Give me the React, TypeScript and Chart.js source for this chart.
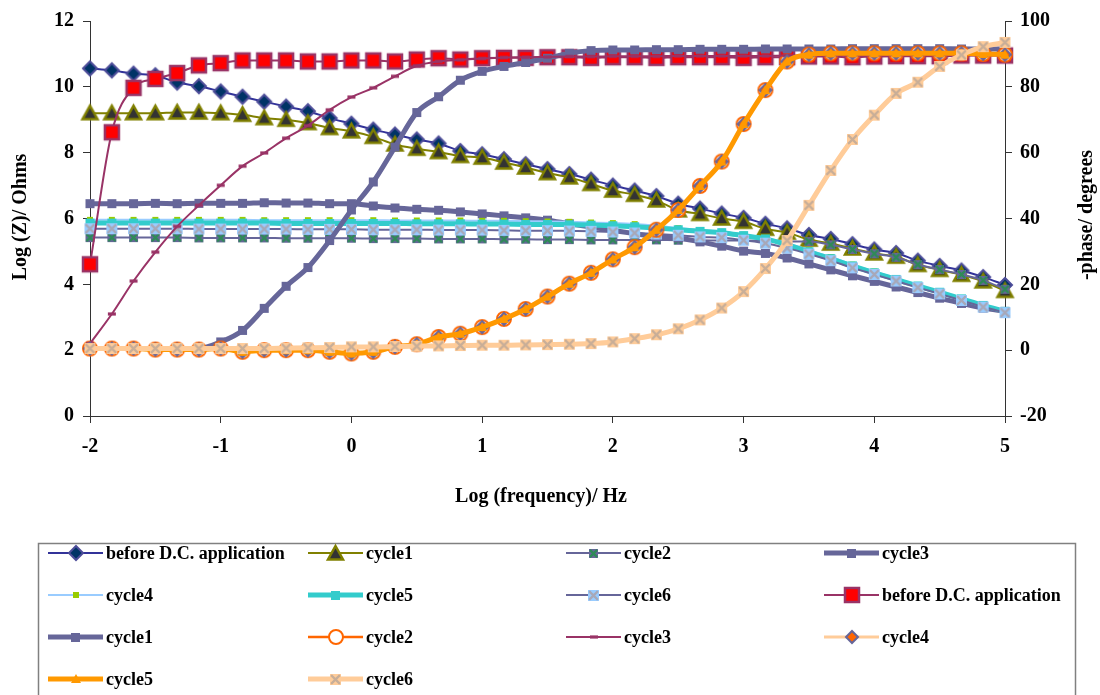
import { useEffect, useRef } from 'react';
import { Chart, registerables } from 'chart.js';

Chart.register(...registerables);

// log10(frequency / Hz)
const logFreq = [
  -2, -1.833, -1.667, -1.5, -1.333, -1.167, -1, -0.833, -0.667, -0.5,
  -0.333, -0.167, 0, 0.167, 0.333, 0.5, 0.667, 0.833, 1, 1.167,
  1.333, 1.5, 1.667, 1.833, 2, 2.167, 2.333, 2.5, 2.667, 2.833,
  3, 3.167, 3.333, 3.5, 3.667, 3.833, 4, 4.167, 4.333, 4.5,
  4.667, 4.833, 5,
];

// Log |Z| / Ohms (left axis)
const zBeforeDC = [
  10.56, 10.5, 10.4, 10.35, 10.13, 10.02, 9.86, 9.7, 9.55, 9.4,
  9.26, 9.05, 8.88, 8.7, 8.55, 8.4, 8.28, 8.05, 7.95, 7.8,
  7.65, 7.5, 7.35, 7.18, 7.0, 6.85, 6.68, 6.45, 6.3, 6.15,
  6.02, 5.84, 5.7, 5.5, 5.38, 5.22, 5.06, 4.95, 4.72, 4.56,
  4.42, 4.22, 3.98,
];
const zCycle1 = [
  9.2, 9.2, 9.2, 9.2, 9.22, 9.22, 9.2, 9.15, 9.05, 9.0,
  8.9, 8.75, 8.65, 8.48, 8.25, 8.12, 8.02, 7.9, 7.85, 7.7,
  7.55, 7.38, 7.25, 7.05, 6.85, 6.72, 6.55, 6.25, 6.14, 6.0,
  5.9, 5.69, 5.57, 5.36, 5.24, 5.09, 4.94, 4.84, 4.59, 4.44,
  4.29, 4.09, 3.8,
];
const zCycle2 = [
  5.42, 5.42, 5.42, 5.42, 5.42, 5.41, 5.41, 5.41, 5.41, 5.4,
  5.4, 5.4, 5.4, 5.39, 5.39, 5.39, 5.38, 5.38, 5.38, 5.37,
  5.37, 5.36, 5.36, 5.35, 5.35, 5.35, 5.35, 5.34, 5.34, 5.33,
  5.33, 5.32, 5.3, 5.3, 5.2, 5.06, 4.93, 4.82, 4.6, 4.45,
  4.3, 4.12, 3.85,
];
const zCycle3 = [
  6.45, 6.45, 6.45, 6.46, 6.45, 6.46, 6.46, 6.46, 6.48, 6.47,
  6.47, 6.45, 6.45, 6.38, 6.32, 6.28, 6.25, 6.2, 6.14, 6.08,
  6.02, 5.95, 5.84, 5.74, 5.64, 5.54, 5.44, 5.41, 5.29, 5.16,
  5.01, 4.94, 4.8, 4.62, 4.44, 4.26, 4.09, 3.92, 3.75, 3.58,
  3.42, 3.28, 3.18,
];
const zCycle4 = [
  5.96, 5.96, 5.96, 5.96, 5.96, 5.96, 5.96, 5.96, 5.95, 5.95,
  5.95, 5.95, 5.95, 5.95, 5.94, 5.94, 5.94, 5.94, 5.93, 5.93,
  5.92, 5.91, 5.9, 5.88, 5.86, 5.83, 5.78, 5.71, 5.65, 5.6,
  5.51, 5.41, 5.25, 5.04, 4.83, 4.6, 4.39, 4.18, 3.98, 3.78,
  3.58, 3.38, 3.2,
];
const zCycle5 = [
  5.86, 5.86, 5.86, 5.86, 5.86, 5.86, 5.86, 5.86, 5.86, 5.85,
  5.85, 5.85, 5.85, 5.85, 5.85, 5.84, 5.84, 5.84, 5.83, 5.83,
  5.82, 5.82, 5.81, 5.8, 5.78, 5.75, 5.71, 5.66, 5.61, 5.57,
  5.48, 5.38, 5.2, 4.99, 4.78, 4.56, 4.35, 4.15, 3.95, 3.76,
  3.56, 3.36, 3.18,
];
const zCycle6 = [
  5.69, 5.69, 5.69, 5.69, 5.69, 5.68, 5.68, 5.68, 5.68, 5.68,
  5.67, 5.67, 5.67, 5.66, 5.66, 5.66, 5.65, 5.65, 5.65, 5.64,
  5.63, 5.63, 5.62, 5.61, 5.59, 5.56, 5.53, 5.49, 5.44, 5.42,
  5.34, 5.25, 5.1, 4.92, 4.72, 4.5, 4.3, 4.1, 3.9, 3.71,
  3.51, 3.31, 3.14,
];

// -phase / degrees (right axis)
const phBeforeDC = [
  26.1, 66.2, 79.7, 82.4, 84.2, 86.5, 87.2, 88.0, 88.0, 88.0,
  87.7, 87.7, 88.0, 88.0, 87.7, 88.3, 88.7, 88.3, 88.7, 88.8,
  88.8, 89.0, 89.0, 88.8, 89.0, 89.0, 88.8, 89.0, 89.0, 89.0,
  88.8, 89.0, 89.0, 89.2, 89.2, 89.0, 89.2, 89.3, 89.3, 89.3,
  89.5, 89.5, 89.5,
];
const phCycle1 = [
  0.5, 0.5, 0.5, 0.5, 0.5, 0.5, 2.5, 6.0, 12.7, 19.4,
  25.1, 33.3, 42.6, 51.1, 61.7, 72.2, 77.0, 82.0, 84.7, 86.2,
  87.4, 88.7, 90.2, 91.0, 91.2, 91.2, 91.3, 91.3, 91.4, 91.4,
  91.4, 91.5, 91.5, 91.5, 91.5, 91.6, 91.6, 91.6, 91.6, 91.6,
  91.5, 91.5, 91.5,
];
const phCycle2 = [
  0.5, 0.5, 0.5, 0.2, 0.2, 0.2, 0.5, -0.5, 0, 0,
  0, -0.5, -1.0, -0.5, 1.0, 1.8, 4.0, 5.0, 7.0, 9.5,
  12.5, 16.3, 20.2, 23.5, 27.6, 31.3, 36.6, 42.6, 49.9, 57.3,
  68.7, 79.0, 87.7, 89.8, 90.2, 90.2, 90.2, 90.2, 90.2, 90.2,
  90.2, 90.0, 89.8,
];
const phCycle3 = [
  2.0, 11.0, 21.0, 29.8, 37.6, 44.0, 50.1, 55.9, 59.9, 64.4,
  68.2, 73.0, 76.9, 79.7, 83.2, 86.4, 87.7, 88.2, 88.6, 88.9,
  89.0, 89.1, 89.2, 89.2, 89.3, 89.3, 89.3, 89.4, 89.4, 89.4,
  89.4, 89.4, 89.5, 89.5, 89.5, 89.5, 89.5, 89.6, 89.6, 89.6,
  89.6, 89.6, 89.6,
];
const phCycle4 = [
  0.5, 0.5, 0.5, 0.2, 0.2, 0.2, 0.5, -0.5, 0, 0,
  0, -0.5, -1.0, -0.5, 1.0, 1.8, 4.0, 5.0, 7.0, 9.5,
  12.5, 16.3, 20.2, 23.5, 27.6, 31.3, 36.6, 42.6, 49.9, 57.3,
  68.7, 79.0, 87.7, 89.8, 90.2, 90.2, 90.2, 90.2, 90.2, 90.2,
  90.2, 90.0, 89.8,
];
const phCycle5 = [
  0.5, 0.5, 0.5, 0.2, 0.2, 0.2, 0.5, -0.5, 0, 0,
  0, -0.5, -1.0, -0.5, 1.0, 1.8, 4.0, 5.0, 7.0, 9.5,
  12.5, 16.3, 20.2, 23.5, 27.6, 31.3, 36.6, 42.6, 49.9, 57.3,
  68.7, 79.0, 87.7, 89.8, 90.2, 90.2, 90.2, 90.2, 90.2, 90.2,
  90.2, 90.0, 89.8,
];
const phCycle6 = [
  0.5, 0.5, 0.5, 0.5, 0.5, 0.5, 0.5, 0.5, 0.5, 0.6,
  0.7, 0.8, 1.0, 1.0, 1.1, 1.2, 1.3, 1.4, 1.5, 1.5,
  1.6, 1.7, 1.8, 2.0, 2.5, 3.5, 4.7, 6.5, 9.2, 12.8,
  17.8, 24.8, 33.3, 44.0, 54.6, 64.0, 71.4, 78.0, 81.4, 86.2,
  89.7, 92.2, 93.5,
];

const seriesLabels = [
  'before D.C. application', 'cycle1', 'cycle2', 'cycle3', 'cycle4', 'cycle5', 'cycle6',
  'before D.C. application', 'cycle1', 'cycle2', 'cycle3', 'cycle4', 'cycle5', 'cycle6',
];
const seriesValues = [
  zBeforeDC, zCycle1, zCycle2, zCycle3, zCycle4, zCycle5, zCycle6,
  phBeforeDC, phCycle1, phCycle2, phCycle3, phCycle4, phCycle5, phCycle6,
];

const xTitle = 'Log (frequency)/ Hz';
const yTitle = 'Log (Z)/ Ohms';
const y1Title = '-phase/ degrees';

type Shape = 'diamond' | 'triangle' | 'square' | 'circle' | 'xsquare' | 'dash';

function makeMarker(shape: Shape, size: number, fill: string, stroke: string | null, lw: number, xColor?: string) {
  const pad = Math.ceil(lw) + 1;
  const s = Math.round(size + pad * 2);
  const c = document.createElement('canvas');
  c.width = s;
  c.height = s;
  const ctx = c.getContext('2d') as CanvasRenderingContext2D;
  const cx = s / 2;
  const cy = s / 2;
  const r = size / 2;
  ctx.fillStyle = fill;
  ctx.lineJoin = 'miter';
  ctx.beginPath();
  if (shape === 'diamond') {
    ctx.moveTo(cx, cy - r);
    ctx.lineTo(cx + r, cy);
    ctx.lineTo(cx, cy + r);
    ctx.lineTo(cx - r, cy);
    ctx.closePath();
  } else if (shape === 'triangle') {
    ctx.moveTo(cx, cy - r);
    ctx.lineTo(cx + r, cy + r * 0.8);
    ctx.lineTo(cx - r, cy + r * 0.8);
    ctx.closePath();
  } else if (shape === 'circle') {
    ctx.arc(cx, cy, r, 0, Math.PI * 2);
  } else if (shape === 'dash') {
    ctx.rect(cx - r, cy - r * 0.4, r * 2, r * 0.8);
  } else {
    ctx.rect(cx - r, cy - r, r * 2, r * 2);
  }
  ctx.fill();
  if (stroke && lw > 0) {
    ctx.strokeStyle = stroke;
    ctx.lineWidth = lw;
    ctx.stroke();
  }
  if (shape === 'xsquare' && xColor) {
    ctx.strokeStyle = xColor;
    ctx.lineWidth = 2.2;
    const k = r * 0.8;
    ctx.beginPath();
    ctx.moveTo(cx - k, cy - k);
    ctx.lineTo(cx + k, cy + k);
    ctx.moveTo(cx + k, cy - k);
    ctx.lineTo(cx - k, cy + k);
    ctx.stroke();
  }
  return c;
}

const FONT = 'Liberation Serif';

export default function App() {
  const ref = useRef<HTMLCanvasElement>(null);

  useEffect(() => {
    const styles = [
      { color: '#333399', width: 2, marker: makeMarker('diamond', 14, '#003366', '#4D4D99', 2) },
      { color: '#808000', width: 2, marker: makeMarker('triangle', 15, '#333333', '#808000', 2.5) },
      { color: '#666699', width: 2, marker: makeMarker('xsquare', 9, '#666699', null, 0, '#2E8B57') },
      { color: '#666699', width: 5, marker: makeMarker('square', 9, '#666699', null, 0) },
      { color: '#99CCFF', width: 2, marker: makeMarker('square', 6, '#99CC00', null, 0) },
      { color: '#33CCCC', width: 5, marker: makeMarker('square', 9, '#33CCCC', null, 0) },
      { color: '#666699', width: 2, marker: makeMarker('xsquare', 11, '#99CCFF', null, 0, '#A8A8B8') },
      { color: '#993366', width: 2, marker: makeMarker('square', 14, '#FF0000', '#993366', 2.5) },
      { color: '#666699', width: 5, marker: makeMarker('square', 9, '#666699', null, 0) },
      { color: '#FF6600', width: 2.5, marker: makeMarker('circle', 14, '#FFFFFF', '#FF6600', 2) },
      { color: '#993366', width: 2, marker: makeMarker('dash', 8, '#993366', null, 0) },
      { color: '#FFCC99', width: 3, marker: makeMarker('diamond', 12, '#FF6600', '#666699', 2) },
      { color: '#FF9900', width: 5, marker: makeMarker('triangle', 10, '#FF9900', null, 0) },
      { color: '#FFCC99', width: 5, marker: makeMarker('xsquare', 11, '#FFCC99', null, 0, '#C8AE98') },
    ];
    const n = seriesValues.length;
    const datasets = seriesValues.map((vals, i) => ({
      label: seriesLabels[i],
      data: vals.map((v, j) => ({ x: logFreq[j], y: v })),
      yAxisID: i < 7 ? 'y' : 'y1',
      borderColor: styles[i].color,
      backgroundColor: styles[i].color,
      borderWidth: styles[i].width,
      pointStyle: styles[i].marker,
      pointRadius: 6,
      pointHoverRadius: 6,
      cubicInterpolationMode: 'monotone',
      borderJoinStyle: 'round',
      clip: false,
      order: n - 1 - i,
    }));

    const tickFont = { family: FONT, size: 20, weight: 'bold' };

    const decor = {
      id: 'decor',
      afterDraw(chart: any) {
        const ctx = chart.ctx as CanvasRenderingContext2D;
        ctx.save();
        ctx.fillStyle = '#000';
        ctx.font = `bold 20px "${FONT}"`;
        ctx.textAlign = 'center';
        ctx.textBaseline = 'middle';
        ctx.fillText(xTitle, 541, 497);
        ctx.save();
        ctx.translate(21, 217);
        ctx.rotate(-Math.PI / 2);
        ctx.fillText(yTitle, 0, 0);
        ctx.restore();
        ctx.save();
        ctx.translate(1087, 215);
        ctx.rotate(-Math.PI / 2);
        ctx.fillText(y1Title, 0, 0);
        ctx.restore();

        // legend box
        ctx.strokeStyle = '#808080';
        ctx.lineWidth = 1.5;
        ctx.strokeRect(38.5, 543.5, 1037, 170);
        const cols = [48, 308, 566, 824];
        const rows = [553, 595, 637, 679];
        ctx.font = `bold 18px "${FONT}"`;
        ctx.textAlign = 'left';
        for (let i = 0; i < n; i++) {
          const x0 = cols[i % 4];
          const y0 = rows[Math.floor(i / 4)];
          ctx.strokeStyle = styles[i].color;
          ctx.lineWidth = styles[i].width;
          ctx.lineCap = 'butt';
          ctx.beginPath();
          ctx.moveTo(x0, y0);
          ctx.lineTo(x0 + 55, y0);
          ctx.stroke();
          const m = styles[i].marker;
          ctx.drawImage(m, Math.round(x0 + 27.5 - m.width / 2), Math.round(y0 - m.height / 2));
          ctx.fillStyle = '#000';
          ctx.fillText(seriesLabels[i], x0 + 58, y0 + 1);
        }
        ctx.restore();
      },
    };

    const chart = new Chart(ref.current as HTMLCanvasElement, {
      type: 'line',
      data: { datasets } as any,
      options: {
        animation: false,
        responsive: false,
        maintainAspectRatio: false,
        events: [],
        layout: { padding: { top: 17, bottom: 179, left: 0, right: 0 } },
        plugins: {
          legend: { display: false },
          tooltip: { enabled: false },
        },
        scales: {
          x: {
            type: 'linear',
            min: -2,
            max: 5,
            ticks: { stepSize: 1, color: '#000', font: tickFont as any, padding: 12, maxRotation: 0 },
            grid: { drawOnChartArea: false, drawTicks: true, tickLength: 7, color: '#333' },
            border: { display: true, color: '#333', width: 1 },
            afterFit: (s: any) => { s.height = 100; },
          },
          y: {
            type: 'linear',
            position: 'left',
            min: 0,
            max: 12,
            ticks: { stepSize: 2, color: '#000', font: tickFont as any, padding: 9 },
            grid: { drawOnChartArea: false, drawTicks: true, tickLength: 7, color: '#333' },
            border: { display: true, color: '#333', width: 1 },
            afterFit: (s: any) => { s.width = 90; },
          },
          y1: {
            type: 'linear',
            position: 'right',
            min: -20,
            max: 100,
            ticks: { stepSize: 20, color: '#000', font: tickFont as any, padding: 8 },
            grid: { drawOnChartArea: false, drawTicks: true, tickLength: 7, color: '#333' },
            border: { display: true, color: '#333', width: 1 },
            afterFit: (s: any) => { s.width = 95; },
          },
        },
      } as any,
      plugins: [decor],
    });
    return () => chart.destroy();
  }, []);

  return (
    <div style={{ position: 'absolute', left: 0, top: 0, width: 1100, height: 695, background: '#fff' }}>
      <canvas ref={ref} width={1100} height={695} style={{ display: 'block' }} />
    </div>
  );
}
